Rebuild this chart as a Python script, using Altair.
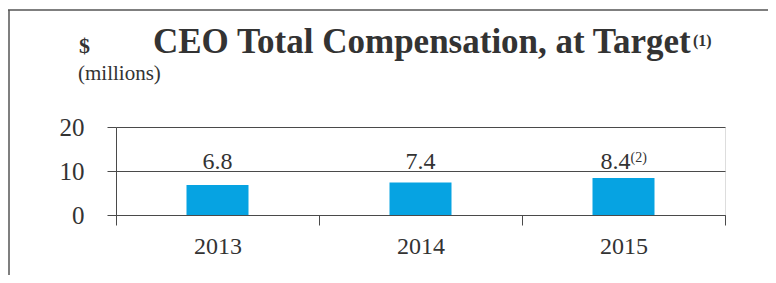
import altair as alt
import pandas as pd

years = ["2013", "2014", "2015"]
values = [6.8, 7.4, 8.4]
labels = ["6.8", "7.4", "8.4"]
sups = ["", "", "(2)"]
y_ticks = [0, 10, 20]

df = pd.DataFrame({"year": years, "value": values, "label": labels, "sup": sups})
one = pd.DataFrame({"k": [0]})

FONT = "Liberation Serif"
TXT = "#333333"
LINE = "#4a4a4a"

W, H = 609, 88

x_enc = alt.X("year:N", sort=years, title=None,
              scale=alt.Scale(paddingInner=0, paddingOuter=0),
              axis=alt.Axis(labelAngle=0, tickBand="extent", tickSize=10, tickColor=LINE,
                            domainColor=LINE, labelFont=FONT, labelFontSize=24,
                            labelColor=TXT, labelPadding=9, labelBaseline="top"))
y_scale = alt.Scale(domain=[0, 20])

bars = alt.Chart(df).mark_bar(size=62, color="#06a3e2").encode(
    x=x_enc,
    y=alt.Y("value:Q", scale=y_scale, title=None,
            axis=alt.Axis(values=y_ticks, grid=True, gridColor=LINE, gridOpacity=1,
                          tickSize=9, tickColor=LINE, domainColor=LINE,
                          labelFont=FONT, labelFontSize=25, labelColor=TXT,
                          labelPadding=23)),
)

lab_plain = alt.Chart(df).transform_filter("datum.sup == ''").mark_text(
    font=FONT, fontSize=24, color=TXT, baseline="alphabetic", dy=-2
).encode(x=alt.X("year:N", sort=years), y=alt.datum(10, scale=y_scale), text="label:N")

lab_sup_main = alt.Chart(df).transform_filter("datum.sup != ''").mark_text(
    font=FONT, fontSize=24, color=TXT, baseline="alphabetic", dy=-2, dx=-8
).encode(x=alt.X("year:N", sort=years), y=alt.datum(10, scale=y_scale), text="label:N")

lab_sup = alt.Chart(df).transform_filter("datum.sup != ''").mark_text(
    font=FONT, fontSize=14, color=TXT, baseline="alphabetic", align="left", dy=-9, dx=7
).encode(x=alt.X("year:N", sort=years), y=alt.datum(10, scale=y_scale), text="sup:N")

title = alt.Chart(one).mark_text(
    font=FONT, fontSize=35, fontWeight="bold", color=TXT, align="left", baseline="alphabetic"
).encode(x=alt.value(37), y=alt.value(-74), text=alt.value("CEO Total Compensation, at Target"))

title_sup = alt.Chart(one).mark_text(
    font=FONT, fontSize=16, fontWeight="bold", color=TXT, align="left", baseline="alphabetic"
).encode(x=alt.value(577), y=alt.value(-81), text=alt.value("(1)"))

dollar = alt.Chart(one).mark_text(
    font=FONT, fontSize=22, fontWeight="bold", color=TXT, align="left", baseline="alphabetic"
).encode(x=alt.value(-37), y=alt.value(-74), text=alt.value("$"))

millions = alt.Chart(one).mark_text(
    font=FONT, fontSize=21, color=TXT, align="left", baseline="alphabetic"
).encode(x=alt.value(-38), y=alt.value(-47), text=alt.value("(millions)"))

frame_top = alt.Chart(one).mark_rule(color="#555555", strokeWidth=1.5).encode(
    x=alt.value(-108), x2=alt.value(660), y=alt.value(-117))
frame_left = alt.Chart(one).mark_rule(color="#555555", strokeWidth=1.5).encode(
    x=alt.value(-107), y=alt.value(-117), y2=alt.value(160))

chart = alt.layer(
    bars, lab_plain, lab_sup_main, lab_sup, title, title_sup, dollar, millions,
    frame_top, frame_left
).properties(
    width=W, height=H,
    autosize=alt.AutoSizeParams(type="none"),
    padding={"left": 108, "top": 119, "right": 43, "bottom": 60},
).configure_view(stroke=None).configure(background="white")

chart.save("out.html", embed_options={"renderer": "svg", "actions": False})
